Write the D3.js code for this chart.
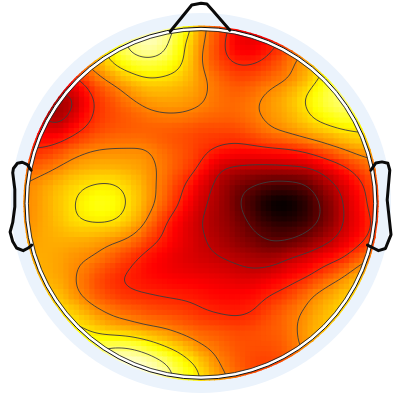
<!DOCTYPE html>
<html><head><meta charset="utf-8">
<style>html,body{margin:0;padding:0;background:#fff}svg{display:block}</style>
<script src="https://cdnjs.cloudflare.com/ajax/libs/d3/7.8.5/d3.min.js"></script>
</head><body><svg id="c" width="400" height="400"></svg>
<script>
// scalp-surface values (hundredths of the colour range), 18 px apart
const colsX = d3.range(-10, 11);
const rowsY = d3.range(-10, 11);
const surface = [
[60,60,60,60,65,72,84,92,92,82,62,50,40,36,38,45,55,62,65,65,65],
[60,60,60,60,65,75,88,94,90,74,60,48,35,34,40,47,56,62,65,65,65],
[50,50,50,55,62,72,81,85,82,73,58,47,41,41,46,55,62,70,75,75,75],
[35,35,38,42,52,60,66,71,70,67,60,53,48,49,53,57,65,75,85,88,88],
[30,30,27,28,43,50,57,62,63,62,59,54,52,55,60,65,73,82,88,90,90],
[34,30,22,31,43,48,51,55,57,57,55,53,53,56,60,64,71,78,82,80,80],
[45,37,34,41,47,50,51,51,50,49,47,47,47,51,56,59,63,66,70,72,72],
[43,43,47,53,57,58,58,58,53,50,46,42,40,40,41,42,46,52,57,62,62],
[53,53,57,62,64,64,63,60,55,49,42,30,27,26,26,27,28,34,41,49,55],
[57,60,65,69,72,73,69,62,53,44,34,26,18,14,10,10,14,24,32,42,50],
[57,60,66,71,77,77,71,62,52,41,31,25,16,8,0,0,7,18,29,40,50],
[57,61,65,70,72,72,67,57,44,35,29,24,19,12,7,6,10,18,29,38,47],
[60,62,63,63,62,59,56,48,41,35,30,26,21,17,13,14,19,26,33,41,50],
[62,63,62,59,57,52,46,40,36,33,31,29,27,25,24,29,33,38,43,53,60],
[64,64,62,58,51,45,42,39,37,36,35,34,32,31,34,38,42,50,57,66,70],
[66,66,66,59,52,47,44,43,42,41,40,38,38,39,43,47,55,61,66,70,72],
[72,72,72,68,61,56,53,50,48,47,44,42,41,43,49,54,59,65,70,72,72],
[76,76,76,74,70,65,63,60,58,54,51,50,48,49,51,54,62,66,68,68,68],
[86,86,86,84,82,87,87,81,73,67,59,54,50,49,49,53,60,63,64,64,64],
[96,96,96,94,94,97,97,96,89,78,70,58,52,47,47,50,55,58,60,60,60],
[96,96,96,96,96,98,98,96,92,80,72,62,55,50,50,50,52,55,58,60,60]
];
const contourLevels = [14.3, 28.6, 42.9, 57.1, 71.4, 85.7];
const hotStops = [0, 37.5, 75, 100];
const hotColors = ["#000000", "#ff0000", "#ffff00", "#ffffff"];
// outlines in head-radius units
const nose = [[-0.177,-0.987],[-0.053,-1.14],[0,-1.15],[0.034,-1.145],[0.07,-1.105],[0.166,-0.995]];
const earLeft = [[-0.976,-0.19],[-0.998,-0.222],[-1.027,-0.236],[-1.055,-0.23],[-1.078,-0.2],[-1.082,-0.175],[-1.07,-0.08],[-1.07,0.02],[-1.082,0.11],[-1.097,0.165],[-1.082,0.22],[-1.06,0.257],[-1.022,0.272],[-0.993,0.257],[-0.973,0.24]];
const earRight = [[0.976,-0.19],[1.005,-0.232],[1.04,-0.238],[1.074,-0.23],[1.085,-0.19],[1.07,-0.02],[1.092,0.18],[1.06,0.26],[1.02,0.272],[0.99,0.257],[0.957,0.24]];

const cx = 201, cy = 203.3, headR = 174, discR = 190, step = 18, cellN = 67;
const svg = d3.select("#c");
const x = d3.scaleLinear().domain([-1, 1]).range([cx - headR, cx + headR]);
const y = d3.scaleLinear().domain([-1, 1]).range([cy - headR, cy + headR]);
const colX = i => 200 + colsX[i] * step, rowY = j => 204 + rowsY[j] * step;
const col = d3.scaleLinear().domain(hotStops).range(hotColors).clamp(true);

function cr(p0, p1, p2, p3, t) {
  return 0.5 * (2*p1 + (p2-p0)*t + (2*p0-5*p1+4*p2-p3)*t*t + (3*p1-p0-3*p2+p3)*t*t*t);
}
function sample(px, py) {
  const u = Math.max(0, Math.min(19.999, (px - colX(0)) / step));
  const v = Math.max(0, Math.min(19.999, (py - rowY(0)) / step));
  const i = Math.floor(u), j = Math.floor(v), tu = u - i, tv = v - j;
  const row = k => {
    const r = surface[Math.max(0, Math.min(20, k))];
    const g = m => r[Math.max(0, Math.min(20, m))];
    return cr(g(i-1), g(i), g(i+1), g(i+2), tu);
  };
  return cr(row(j-1), row(j), row(j+1), row(j+2), tv);
}

// fine field, softened so the hand-read grid does not wobble
const fine = 2, fx0 = 20, fy0 = 24, fw = 181, fh = 181;
const values = new Float64Array(fw * fh);
for (let j = 0; j < fh; j++) for (let i = 0; i < fw; i++) values[j * fw + i] = sample(fx0 + i * fine, fy0 + j * fine);
d3.blur2({data: values, width: fw}, 3);
const field = (px, py) => {
  const i = Math.max(0, Math.min(fw - 1, Math.round((px - fx0) / fine)));
  const j = Math.max(0, Math.min(fh - 1, Math.round((py - fy0) / fine)));
  return values[j * fw + i];
};

svg.append("circle").attr("cx", cx).attr("cy", cy - 0.3).attr("r", discR).attr("fill", "#ebf3fc");
const defs = svg.append("defs");
defs.append("clipPath").attr("id", "outer").append("circle").attr("cx", cx).attr("cy", cy).attr("r", headR + 3.8);
defs.append("clipPath").attr("id", "inner").append("circle").attr("cx", cx).attr("cy", cy).attr("r", headR);

const band = d3.scaleBand().domain(d3.range(cellN)).range([cx - headR, cx + headR]);
const cells = [];
for (let j = -1; j <= cellN; j++) for (let i = -1; i <= cellN; i++) cells.push([i, j]);
const bw = band.bandwidth();
svg.append("g").attr("clip-path", "url(#outer)").selectAll("rect").data(cells).join("rect")
  .attr("x", d => cx - headR + d[0] * bw).attr("y", d => cy - headR + d[1] * bw)
  .attr("width", bw + 1).attr("height", bw + 1)
  .attr("fill", d => col(field(cx - headR + (d[0] + .5) * bw, cy - headR + (d[1] + .5) * bw)));

// contour lines
const contours = d3.contours().size([fw, fh]).thresholds(contourLevels)(values);
const path = d3.geoPath(d3.geoIdentity().scale(fine).translate([fx0 - fine/2, fy0 - fine/2]));
svg.append("g").attr("clip-path", "url(#inner)").selectAll("path").data(contours).join("path")
  .attr("d", path).attr("fill", "none").attr("stroke", "#3c3c3c").attr("stroke-width", 0.9);

// head ring
const ring = (r, c, w) => svg.append("circle").attr("cx", cx).attr("cy", cy).attr("r", r).attr("fill", "none").attr("stroke", c).attr("stroke-width", w);
ring(headR + 0.4, "#fff", 3.4);
ring(headR + 2, "#111", 1);
ring(headR - 1.4, "#222", 0.9);

const line = d3.line().x(d => x(d[0])).y(d => y(d[1])).curve(d3.curveLinear);
for (const shape of [nose, earLeft, earRight]) {
  svg.append("path").attr("d", line(shape)).attr("fill", "none").attr("stroke", "#0a0a0a")
    .attr("stroke-width", 3).attr("stroke-linejoin", "round").attr("stroke-linecap", "round");
}
</script></body></html>
